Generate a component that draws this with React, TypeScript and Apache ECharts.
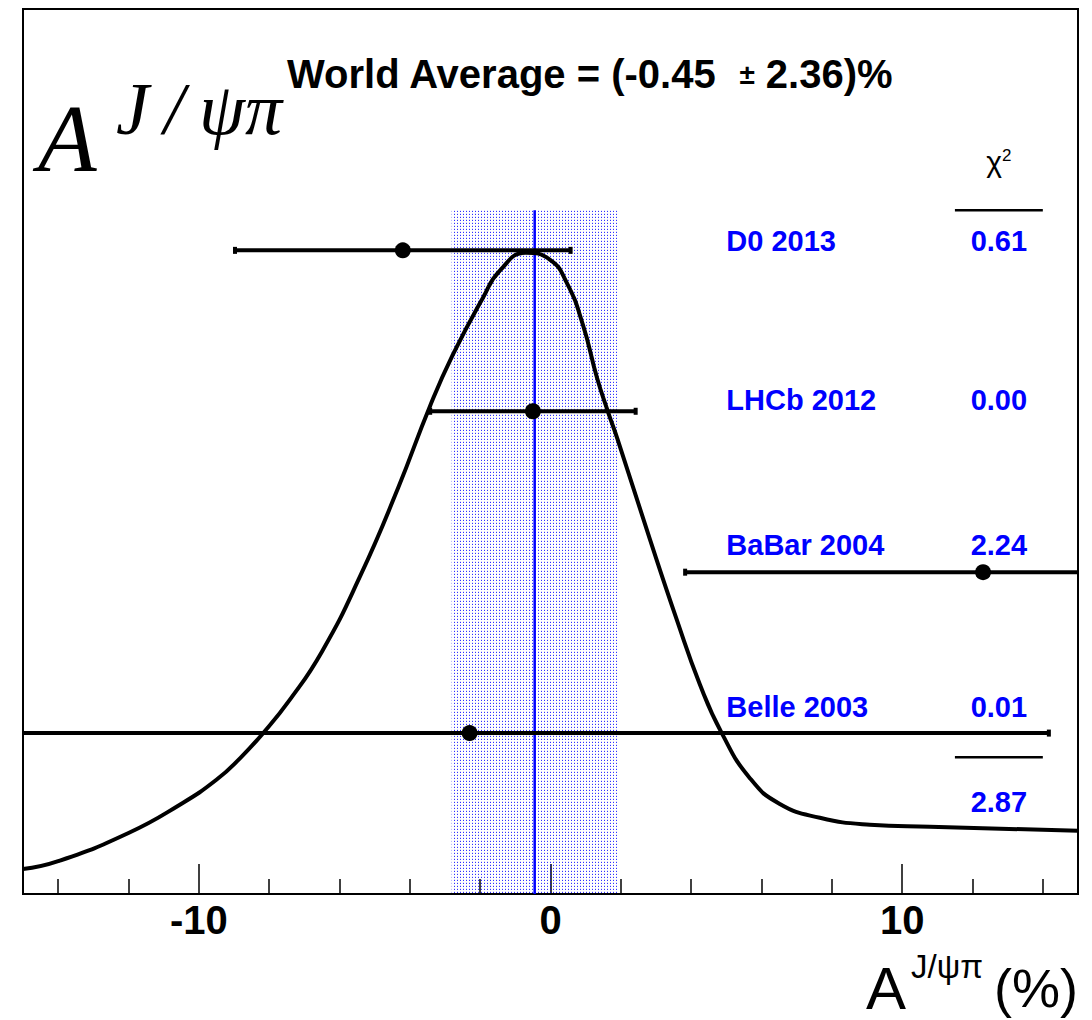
import React, { useEffect, useRef } from "react";
import * as echarts from "echarts";

// Measurements of the direct CP asymmetry A(J/psi pi), in percent
const experiments = ["D0 2013", "LHCb 2012", "BaBar 2004", "Belle 2003"];
const centralValues = [-4.2, -0.5, 12.3, -2.3];
const totalErrors = [4.8, 2.95, 8.5, 16.5];
const chi2Values = ["0.61", "0.00", "2.24", "0.01"];
const chi2Total = "2.87";
const rowIndex = [4, 3, 2, 1];

const worldAverage = -0.45;
const worldAverageError = 2.36;

// Combined likelihood curve (x in %, height in row units)
const curveX = [
  -15.0, -14.0, -12.0, -10.54, -9.5, -8.81, -8.21, -7.41, -6.5, -5.42, -4.34,
  -3.43, -2.78, -1.92, -1.44, -0.7, -0.02, 0.46, 0.92, 1.32, 1.63, 1.91, 2.83,
  3.59, 4.24, 4.87, 5.67, 6.52, 7.66, 9.08, 10.79, 15.0,
];
const curveY = [
  0.155, 0.204, 0.379, 0.555, 0.71, 0.848, 0.99, 1.208, 1.506, 1.972, 2.52,
  3.03, 3.35, 3.706, 3.874, 3.985, 3.943, 3.8, 3.539, 3.21, 3.0, 2.824, 2.202,
  1.705, 1.307, 1.0, 0.72, 0.56, 0.474, 0.431, 0.418, 0.393,
];

const majorTicks = [-10, 0, 10];
const minorTicks = [-14, -12, -8, -6, -4, -2, 2, 4, 6, 8, 12, 14];

// Layout helpers (axis units)
const labelLift = [0.06, 0.07, 0.17, 0.16];
const labelX = 5.0;
const chi2X = 12.75;
const ruleFrom = 11.5;
const ruleTo = 14.0;
const ruleRows = [4.25, 0.85];
const totalRow = 0.57;
const headerRow = 4.55;
const bandTop = 4.25;

const SANS = '"Liberation Sans", Arial, Helvetica, sans-serif';
const SERIF = '"Liberation Serif", "Times New Roman", serif';
const BLUE = "#0000ff";

function makeDotPattern(): string {
  const cv = document.createElement("canvas");
  cv.width = 3;
  cv.height = 3;
  const ctx = cv.getContext("2d");
  if (ctx) {
    ctx.clearRect(0, 0, 3, 3);
    ctx.fillStyle = "rgba(0,0,255,0.8)";
    ctx.fillRect(1, 1, 1, 1);
    ctx.fillStyle = "rgba(0,0,255,0.15)";
    ctx.fillRect(1, 0, 1, 1);
  }
  return cv.toDataURL();
}

export default function App() {
  const ref = useRef<HTMLDivElement>(null);

  useEffect(() => {
    if (!ref.current) return;
    const chart = echarts.init(ref.current, undefined, { renderer: "svg" });
    const pattern = makeDotPattern();

    const curveData = curveX.map((x, i) => [x, curveY[i]]);
    const barData = centralValues.map((v, i) => [
      v - totalErrors[i],
      v + totalErrors[i],
      rowIndex[i],
    ]);
    const pointData = centralValues.map((v, i) => [v, rowIndex[i]]);
    const labelData = rowIndex.map((r, i) => [labelX, r + labelLift[i]]);

    const titleText =
      "{t|World Average = (" +
      worldAverage.toFixed(2) +
      "  }{pm|±}{t| " +
      worldAverageError.toFixed(2) +
      ")%}";

    const option: any = {
      animation: false,
      grid: {
        left: 23,
        right: 14,
        top: 9,
        bottom: 126,
        show: true,
        borderColor: "#000",
        borderWidth: 2,
        backgroundColor: "transparent",
      },
      xAxis: [
        {
          type: "value",
          min: -15,
          max: 15,
          position: "bottom",
          splitLine: { show: false },
          axisLine: { show: true, onZero: false, lineStyle: { color: "#000", width: 2 } },
          axisTick: {
            show: true,
            inside: true,
            length: 30,
            customValues: majorTicks,
            lineStyle: { color: "#000", width: 1.5 },
          },
          axisLabel: {
            customValues: majorTicks,
            color: "#000",
            fontFamily: SANS,
            fontWeight: "bold",
            fontSize: 40,
            margin: 6,
          },
        },
        {
          type: "value",
          min: -15,
          max: 15,
          position: "bottom",
          splitLine: { show: false },
          axisLine: { show: false },
          axisTick: {
            show: true,
            inside: true,
            length: 15,
            customValues: minorTicks,
            lineStyle: { color: "#000", width: 1.5 },
          },
          axisLabel: { show: false },
        },
      ],
      yAxis: { type: "value", min: 0, max: 5.5, show: false },
      series: [
        {
          type: "custom",
          name: "average band",
          z: 1,
          data: [[worldAverage - worldAverageError, worldAverage + worldAverageError, worldAverage]],
          renderItem: (params: any, api: any) => {
            const lo = api.coord([api.value(0), bandTop]);
            const hi = api.coord([api.value(1), 0]);
            const mid = api.coord([api.value(2), bandTop]);
            const base = api.coord([api.value(2), 0]);
            return {
              type: "group",
              children: [
                {
                  type: "rect",
                  shape: { x: lo[0], y: lo[1], width: hi[0] - lo[0], height: hi[1] - lo[1] },
                  style: {
                    fill: { image: pattern, repeat: "repeat", imageWidth: 3, imageHeight: 3 },
                  },
                },
                {
                  type: "line",
                  shape: { x1: mid[0], y1: mid[1], x2: base[0], y2: base[1] },
                  style: { stroke: BLUE, lineWidth: 2.5 },
                },
              ],
            };
          },
        },
        {
          type: "line",
          name: "likelihood",
          z: 3,
          data: curveData,
          smooth: 0.5,
          showSymbol: false,
          symbol: "none",
          lineStyle: { color: "#000", width: 4 },
          clip: true,
        },
        {
          type: "custom",
          name: "errors",
          z: 4,
          data: barData,
          renderItem: (params: any, api: any) => {
            const cs = params.coordSys;
            const p0 = api.coord([api.value(0), api.value(2)]);
            const p1 = api.coord([api.value(1), api.value(2)]);
            const left = Math.max(p0[0], cs.x);
            const right = Math.min(p1[0], cs.x + cs.width);
            const y = p0[1];
            const children: any[] = [
              {
                type: "line",
                shape: { x1: left, y1: y, x2: right, y2: y },
                style: { stroke: "#000", lineWidth: 4 },
              },
            ];
            if (p0[0] >= cs.x) {
              children.push({
                type: "rect",
                shape: { x: p0[0] - 1, y: y - 3.5, width: 4, height: 7 },
                style: { fill: "#000" },
              });
            }
            if (p1[0] <= cs.x + cs.width) {
              children.push({
                type: "rect",
                shape: { x: p1[0] - 3, y: y - 3.5, width: 4, height: 7 },
                style: { fill: "#000" },
              });
            }
            return { type: "group", children };
          },
        },
        {
          type: "scatter",
          name: "measurements",
          z: 5,
          data: pointData,
          symbol: "circle",
          symbolSize: 16,
          itemStyle: { color: "#000", opacity: 1 },
        },
        {
          type: "custom",
          name: "labels",
          z: 6,
          data: labelData,
          renderItem: (params: any, api: any) => {
            const i = params.dataIndex;
            const p = api.coord([api.value(0), api.value(1)]);
            const q = api.coord([chi2X, api.value(1)]);
            return {
              type: "group",
              children: [
                {
                  type: "text",
                  x: p[0],
                  y: p[1],
                  style: {
                    text: experiments[i],
                    fill: BLUE,
                    font: "bold 29px " + SANS,
                    align: "left",
                    verticalAlign: "middle",
                  },
                },
                {
                  type: "text",
                  x: q[0],
                  y: q[1],
                  style: {
                    text: chi2Values[i],
                    fill: BLUE,
                    font: "bold 29px " + SANS,
                    align: "center",
                    verticalAlign: "middle",
                  },
                },
              ],
            };
          },
        },
        {
          type: "custom",
          name: "chi2 summary",
          z: 6,
          data: [[chi2X, totalRow]],
          renderItem: (params: any, api: any) => {
            const total = api.coord([api.value(0), api.value(1)]);
            const head = api.coord([chi2X, headerRow]);
            const rules = ruleRows.map((r) => {
              const a = api.coord([ruleFrom, r]);
              const b = api.coord([ruleTo, r]);
              return {
                type: "line",
                shape: { x1: a[0], y1: a[1], x2: b[0], y2: b[1] },
                style: { stroke: "#000", lineWidth: 2.5 },
              };
            });
            return {
              type: "group",
              children: [
                ...rules,
                {
                  type: "text",
                  x: total[0],
                  y: total[1],
                  style: {
                    text: chi2Total,
                    fill: BLUE,
                    font: "bold 29px " + SANS,
                    align: "center",
                    verticalAlign: "middle",
                  },
                },
                {
                  type: "text",
                  x: head[0],
                  y: head[1],
                  style: {
                    text: "{c|χ}{s|2}",
                    align: "center",
                    verticalAlign: "middle",
                    rich: {
                      c: { font: "30px " + SANS, fill: "#000", verticalAlign: "bottom" },
                      s: { font: "17px " + SANS, fill: "#000", verticalAlign: "top" },
                    },
                  },
                },
              ],
            };
          },
        },
      ],
      graphic: [
        {
          type: "text",
          left: 287,
          top: 54,
          style: {
            text: titleText,
            rich: {
              t: { font: "bold 40px " + SANS, fill: "#000" },
              pm: { font: "bold 28px " + SANS, fill: "#000" },
            },
          },
        },
        {
          type: "text",
          x: 38,
          y: 138,
          style: {
            text: "A",
            font: "italic 96px " + SERIF,
            fill: "#000",
            align: "left",
            verticalAlign: "middle",
          },
        },
        {
          type: "text",
          x: 116,
          y: 109,
          style: {
            text: "J\u2009/\u2009ψπ",
            font: "italic 74px " + SERIF,
            fill: "#000",
            align: "left",
            verticalAlign: "middle",
          },
        },
        {
          type: "text",
          x: 866,
          y: 988,
          style: {
            text: "A",
            font: "60px " + SANS,
            fill: "#000",
            align: "left",
            verticalAlign: "middle",
          },
        },
        {
          type: "text",
          x: 911,
          y: 966,
          style: {
            text: "J/ψπ",
            font: "33px " + SANS,
            fill: "#000",
            align: "left",
            verticalAlign: "middle",
          },
        },
        {
          type: "text",
          x: 1078,
          y: 988,
          style: {
            text: "(%)",
            font: "54px " + SANS,
            fill: "#000",
            align: "right",
            verticalAlign: "middle",
          },
        },
      ],
    };

    chart.setOption(option);
    return () => chart.dispose();
  }, []);

  return (
    <div
      ref={ref}
      style={{ position: "absolute", left: 0, top: 0, width: 1092, height: 1020, background: "#fff" }}
    />
  );
}
